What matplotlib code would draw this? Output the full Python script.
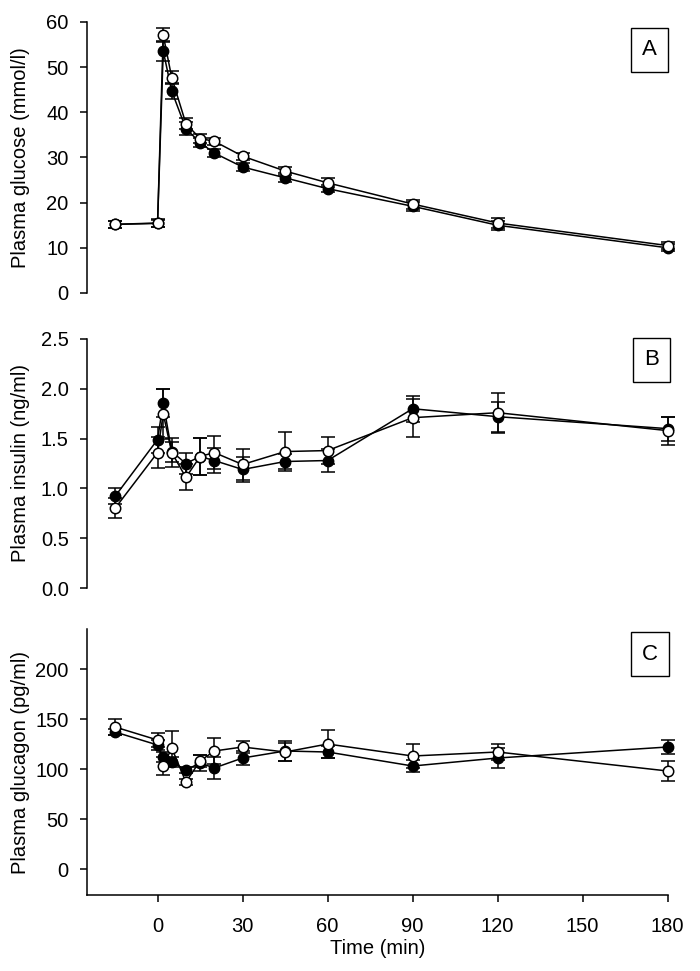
import matplotlib
matplotlib.use("Agg")
import matplotlib.pyplot as plt

plt.rcParams['font.family'] = ['Liberation Sans', 'DejaVu Sans']

time = [-15, 0, 2, 5, 10, 15, 20, 30, 45, 60, 90, 120, 180]

glu_filled = [15.2, 15.4, 53.6, 44.7, 36.4, 33.3, 31.0, 27.9, 25.5, 23.1, 19.2, 15.0, 10.0]
glu_filled_err = [0.8, 0.8, 2.3, 1.8, 1.5, 1.0, 0.8, 0.9, 1.0, 0.8, 1.0, 1.0, 0.8]
glu_open = [15.2, 15.5, 57.1, 47.7, 37.5, 34.2, 33.6, 30.3, 27.0, 24.4, 19.7, 15.5, 10.5]
glu_open_err = [0.8, 0.8, 1.5, 1.5, 1.2, 1.0, 0.8, 0.8, 0.9, 1.0, 1.0, 1.0, 0.8]

ins_filled = [0.92, 1.49, 1.86, 1.37, 1.25, 1.32, 1.28, 1.19, 1.27, 1.28, 1.80, 1.72, 1.60]
ins_filled_err = [0.08, 0.13, 0.14, 0.10, 0.11, 0.19, 0.13, 0.13, 0.08, 0.12, 0.13, 0.15, 0.12]
ins_open = [0.80, 1.36, 1.75, 1.36, 1.11, 1.32, 1.36, 1.24, 1.37, 1.38, 1.71, 1.76, 1.58]
ins_open_err = [0.10, 0.16, 0.25, 0.15, 0.13, 0.19, 0.17, 0.16, 0.20, 0.14, 0.19, 0.20, 0.14]

gcg_filled = [137, 124, 112, 107, 99, 106, 101, 111, 118, 117, 103, 111, 122]
gcg_filled_err = [3, 5, 5, 5, 3, 8, 11, 7, 10, 6, 6, 10, 7]
gcg_open = [142, 129, 103, 121, 87, 108, 118, 122, 117, 125, 113, 117, 98]
gcg_open_err = [8, 7, 9, 17, 3, 6, 13, 6, 9, 14, 12, 8, 10]

ylabels = ['Plasma glucose (mmol/l)', 'Plasma insulin (ng/ml)', 'Plasma glucagon (pg/ml)']
panel_letters = ['A', 'B', 'C']
xticks = [0, 30, 60, 90, 120, 150, 180]

fig = plt.figure(figsize=(7.0, 9.71), dpi=100)
W, H = 700.0, 971.0
def rect(x0, y0, x1, y1):
    return [x0 / W, 1 - y1 / H, (x1 - x0) / W, (y1 - y0) / H]

X0, X1 = 86.7, 667.7
axA = fig.add_axes(rect(X0, 22, X1, 293))
axB = fig.add_axes(rect(X0, 339, X1, 588))
axC = fig.add_axes(rect(X0, 629, X1, 895))
axes = [axA, axB, axC]

data = [
    (glu_filled, glu_filled_err, glu_open, glu_open_err, (0, 60), [0, 10, 20, 30, 40, 50, 60], '%d'),
    (ins_filled, ins_filled_err, ins_open, ins_open_err, (0, 2.5), [0.0, 0.5, 1.0, 1.5, 2.0, 2.5], '%.1f'),
    (gcg_filled, gcg_filled_err, gcg_open, gcg_open_err, (-26, 240), [0, 50, 100, 150, 200], '%d'),
]
box_pos = [(0.969, 0.897), (0.972, 0.916), (0.969, 0.906)]

fs = 14.5
lw = 1.1
for i, (ax, d) in enumerate(zip(axes, data)):
    yf, ef, yo, eo, ylim, yt, fmt = d
    for art in ax.errorbar(time, yf, yerr=ef, color='black', lw=lw, marker='o', ms=7.5,
                mfc='black', mec='black', capsize=5, capthick=lw, elinewidth=lw, zorder=3).get_children():
        art.set_clip_on(False)
    for art in ax.errorbar(time, yo, yerr=eo, color='black', lw=lw, marker='o', ms=7.5,
                mfc='white', mec='black', mew=lw, capsize=5, capthick=lw, elinewidth=lw, zorder=4).get_children():
        art.set_clip_on(False)
    ax.set_xlim(-25, 180)
    ax.set_ylim(*ylim)
    ax.set_yticks(yt)
    ax.set_yticklabels([fmt % v for v in yt], fontsize=fs)
    for s in ['top', 'right']:
        ax.spines[s].set_visible(False)
    ax.spines['left'].set_linewidth(lw)
    ax.tick_params(axis='y', direction='out', length=5, width=lw, pad=8)
    ax.set_ylabel(ylabels[i], fontsize=fs)
    if i < 2:
        ax.spines['bottom'].set_visible(False)
        ax.set_xticks([])
    else:
        ax.spines['bottom'].set_linewidth(lw)
        ax.set_xticks(xticks)
        ax.set_xticklabels([str(v) for v in xticks], fontsize=fs)
        ax.tick_params(axis='x', direction='out', length=5, width=lw, pad=11)
        ax.set_xlabel('Time (min)', fontsize=fs, labelpad=2)
    bx, by = box_pos[i]
    ax.text(bx, by, panel_letters[i], transform=ax.transAxes,
            fontsize=16, ha='center', va='center',
            bbox=dict(boxstyle='square,pad=0.5', fc='white', ec='black', lw=1.0))

for ax in axes:
    ax.yaxis.set_label_coords((30 - X0) / (X1 - X0), 0.5)

fig.savefig('out.png', dpi=100)
